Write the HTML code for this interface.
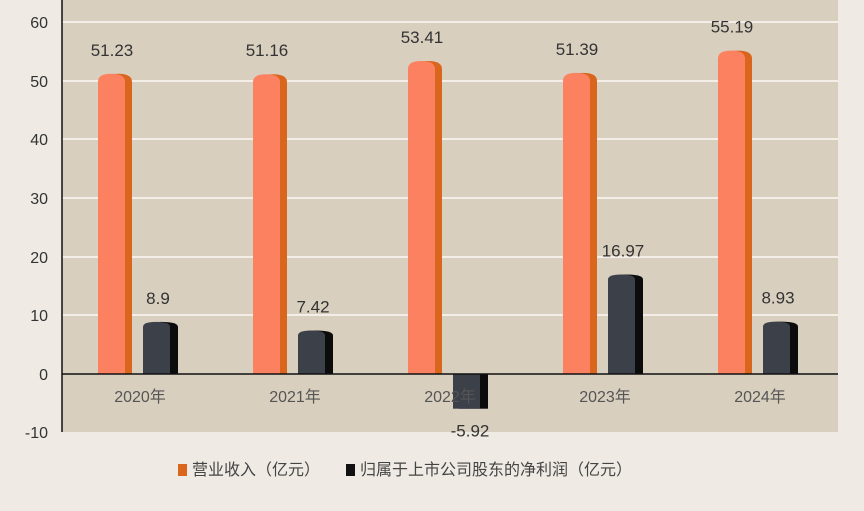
<!DOCTYPE html>
<html><head><meta charset="utf-8"><style>
body{margin:0;background:#efebe4;}
text{font-family:"Liberation Sans","Noto Sans CJK SC",sans-serif;}
</style></head><body>
<svg width="864" height="506" xmlns="http://www.w3.org/2000/svg">
<rect x="0" y="0" width="864" height="506" fill="#efebe4"/>
<rect x="62" y="0" width="776" height="432" fill="#d8cfbf"/>
<g stroke="#f3efe8" stroke-width="2">
<line x1="62" x2="838" y1="22" y2="22"/><line x1="62" x2="838" y1="81" y2="81"/>
<line x1="62" x2="838" y1="139" y2="139"/><line x1="62" x2="838" y1="198" y2="198"/>
<line x1="62" x2="838" y1="257" y2="257"/><line x1="62" x2="838" y1="315" y2="315"/>
</g>
<g font-size="16" fill="#333" text-anchor="end">
<text x="48" y="28">60</text><text x="48" y="87">50</text><text x="48" y="145">40</text>
<text x="48" y="204">30</text><text x="48" y="263">20</text><text x="48" y="321">10</text>
<text x="48" y="380">0</text><text x="48" y="438">-10</text>
</g>
<g id="bars"></g>
<line x1="62" x2="838" y1="374" y2="374" stroke="#111" stroke-width="1.5"/>
<line x1="62" x2="62" y1="0" y2="432" stroke="#111" stroke-width="1.5"/>
<g font-size="16" fill="#555" text-anchor="middle">
<text x="140" y="402">2020年</text><text x="295" y="402">2021年</text><text x="450" y="402">2022年</text>
<text x="605" y="402">2023年</text><text x="760" y="402">2024年</text>
</g>
<rect x="178" y="464" width="9" height="12" fill="#d9661c"/>
<text x="192" y="475" font-size="16" fill="#444">营业收入（亿元）</text>
<rect x="346" y="464" width="9" height="12" fill="#111"/>
<text x="360" y="475" font-size="16" fill="#444">归属于上市公司股东的净利润（亿元）</text>
</svg>
<script>
var d=[[51.23,8.9],[51.16,7.42],[53.41,-5.92],[51.39,16.97],[55.19,8.93]];
var g=document.getElementById('bars'),s='';
function Y(v){return 374-v*5.86;}
d.forEach(function(p,i){
 var c=140+i*155;
 var x=c-42,y=Y(p[0]);
 s+='<path d="M'+(x+7)+' 374 V'+(y+6)+' Q'+(x+7)+' '+y+' '+(x+20)+' '+y+' Q'+(x+34)+' '+y+' '+(x+34)+' '+(y+8)+' V374Z" fill="#d9661c"/>';
 s+='<path d="M'+x+' 374 V'+(y+8)+' Q'+x+' '+y+' '+(x+13)+' '+y+' Q'+(x+27)+' '+y+' '+(x+27)+' '+(y+8)+' V374Z" fill="#fb8161"/>';
 s+='<text x="'+(x+14)+'" y="'+(y-18)+'" font-size="17" fill="#333" text-anchor="middle">'+p[0]+'</text>';
 var x2=c+3,v=p[1];
 if(v>0){var y2=Y(v);
  s+='<path d="M'+(x2+6)+' 374 V'+(y2+4)+' Q'+(x2+6)+' '+y2+' '+(x2+18)+' '+y2+' Q'+(x2+35)+' '+y2+' '+(x2+35)+' '+(y2+5)+' V374Z" fill="#0c0c0c"/>';
  s+='<path d="M'+x2+' 374 V'+(y2+5)+' Q'+x2+' '+y2+' '+(x2+13)+' '+y2+' Q'+(x2+27)+' '+y2+' '+(x2+27)+' '+(y2+5)+' V374Z" fill="#3b4049"/>';
  s+='<text x="'+(x2+15)+'" y="'+(y2-18)+'" font-size="17" fill="#333" text-anchor="middle">'+v+'</text>';
 }else{var y2=Y(v);
  s+='<rect x="'+(x2+6)+'" y="374" width="29" height="'+(y2-374)+'" fill="#0c0c0c"/>';
  s+='<rect x="'+x2+'" y="374" width="27" height="'+(y2-374)+'" fill="#3b4049"/>';
  s+='<text x="'+(x2+17)+'" y="'+(y2+28)+'" font-size="17" fill="#333" text-anchor="middle">'+v+'</text>';
 }
});
g.innerHTML=s;
</script>
</body></html>
